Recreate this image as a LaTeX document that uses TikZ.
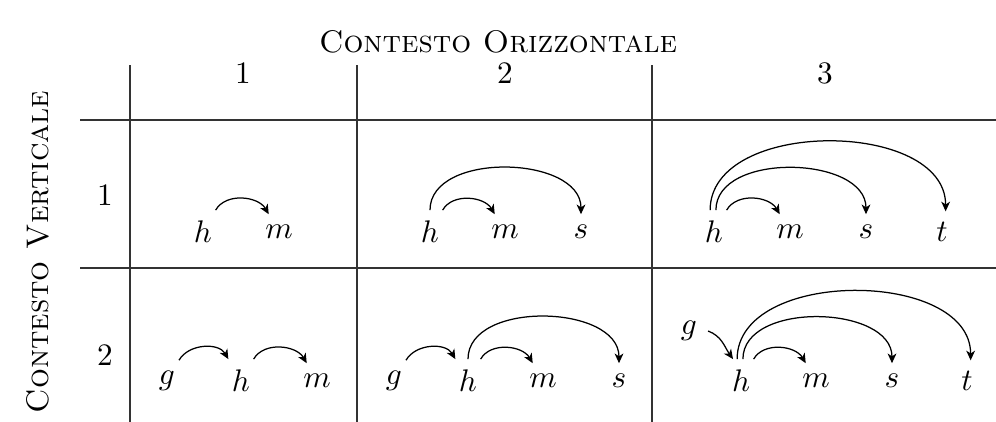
\documentclass[tikz,border=0pt]{standalone}
\usetikzlibrary{arrows.meta}
\begin{document}
\begin{tikzpicture}[x=0.32pt,y=0.32pt,
  grid/.style={line width=0.4pt,draw=black!80},
  dep/.style={-{Stealth[length=3.1pt,width=2.8pt,inset=0.9pt]},line width=0.4pt},
  small/.style={dep,out=60,in=120},
  big/.style={dep,out=90,in=90}]
\useasboundingbox (0,0) rectangle (996,-422);
% titles
\node (title) at (498,-42) {\textsc{Contesto Orizzontale}};
\node[rotate=90] (vtitle) at (38,-252) {\textsc{Contesto Verticale}};
% grid
\draw[grid] (130,-65) -- (130,-422);
\draw[grid] (357,-65) -- (357,-422);
\draw[grid] (652,-65) -- (652,-422);
\draw[grid] (80,-120) -- (996,-120);
\draw[grid] (80,-268) -- (996,-268);
% headers
\node (c1) at (243,-73) {1};
\node (c2) at (505,-73) {2};
\node (c3) at (825,-73) {3};
\node (r1) at (105,-195) {1};
\node (r2) at (105,-355) {2};
% cell 1,1
\node (ah) at (203,-232) {$h$};
\node (am) at (279,-232) {$m$};
\draw[small] (ah.60) to (am.120);
% cell 1,2
\node (bh) at (430,-232) {$h$};
\node (bm) at (505,-232) {$m$};
\node (bs) at (581,-232) {$s$};
\draw[small] (bh.60) to (bm.120);
\draw[big] (bh.north) to (bs.north);
% cell 1,3
\node (ch) at (714,-232) {$h$};
\node (cm) at (790,-232) {$m$};
\node (cs) at (866,-232) {$s$};
\node (ct) at (942,-232) {$t$};
\draw[small] (ch.60) to (cm.120);
\draw[big] (ch.85) to (cs.north);
\draw[big] (ch.100) to (ct.80);
% cell 2,1
\node (dg) at (167,-381) {$g$};
\node (dh) at (241,-381) {$h$};
\node (dm) at (317,-381) {$m$};
\draw[small] (dg.60) to (dh.120);
\draw[small] (dh.60) to (dm.120);
% cell 2,2
\node (eg) at (394,-381) {$g$};
\node (eh) at (468,-381) {$h$};
\node (em) at (543,-381) {$m$};
\node (es) at (619,-381) {$s$};
\draw[small] (eg.60) to (eh.120);
\draw[small] (eh.60) to (em.120);
\draw[big] (eh.north) to (es.north);
% cell 2,3
\node (fg) at (689,-331) {$g$};
\node (fh) at (741,-381) {$h$};
\node (fm) at (816,-381) {$m$};
\node (fs) at (892,-381) {$s$};
\node (ft) at (967,-381) {$t$};
\draw[dep] (fg.east) to[out=-20,in=125] (fh.110);
\draw[small] (fh.60) to (fm.120);
\draw[big] (fh.85) to (fs.north);
\draw[big] (fh.100) to (ft.80);
\end{tikzpicture}
\end{document}
